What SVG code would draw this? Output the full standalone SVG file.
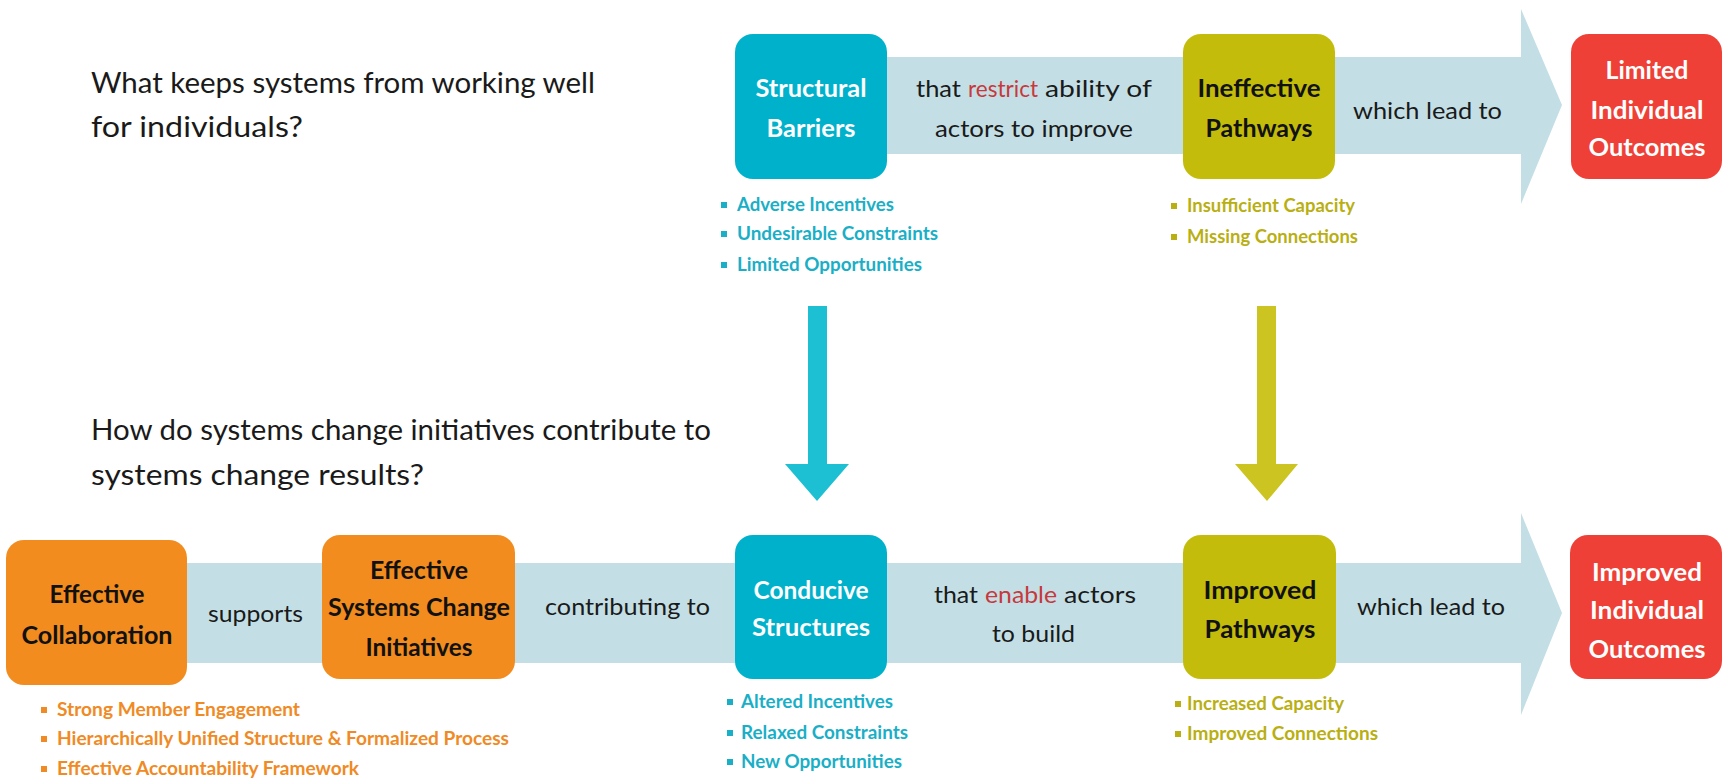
<svg xmlns="http://www.w3.org/2000/svg" width="1725" height="779" viewBox="0 0 1725 779">
<style>
text{font-family:"Lato","Liberation Sans",sans-serif;}
.q{font-size:28px;fill:#1a1a1a;}
.lbl{font-size:24px;fill:#1a1a1a;}
.red{fill:#C8383C;}
.bx{font-size:25px;font-weight:bold;text-anchor:middle;}
.w{fill:#ffffff;}
.k{fill:#111111;}
.bl{font-size:18px;font-weight:bold;}
.tb{fill:#1AAFC6;}
.ob{fill:#B9AF12;}
.or{fill:#F08A24;}
.band{fill:#C3DFE5;}
</style>
<g id="connectors">
<polygon class="band" points="860,57 1521,57 1521,9 1562,105 1521,204 1521,154 860,154"/>
<polygon class="band" points="150,563 1521,563 1521,513 1562,613 1521,715 1521,663 150,663"/>
<polygon fill="#1DBFD3" points="808,306 827,306 827,464 849,464 817,501 785,464 808,464"/>
<polygon fill="#CCC421" points="1257,306 1276,306 1276,464 1298,464 1267,501 1235,464 1257,464"/>
</g>
<g id="questions">
<text class="q" x="91" y="93" textLength="504" lengthAdjust="spacingAndGlyphs">What keeps systems from working well</text>
<text class="q" x="91" y="137" textLength="212" lengthAdjust="spacingAndGlyphs">for individuals?</text>
<text class="q" x="91" y="440" textLength="620" lengthAdjust="spacingAndGlyphs">How do systems change initiatives contribute to</text>
<text class="q" x="91" y="485" textLength="333" lengthAdjust="spacingAndGlyphs">systems change results?</text>
</g>
<g id="labels">
<text class="lbl" x="916" y="97" textLength="45" lengthAdjust="spacingAndGlyphs">that</text>
<text class="lbl red" x="968" y="97" textLength="70" lengthAdjust="spacingAndGlyphs">restrict</text>
<text class="lbl" x="1045" y="97" textLength="107" lengthAdjust="spacingAndGlyphs">ability of</text>
<text class="lbl" x="935" y="137" textLength="198" lengthAdjust="spacingAndGlyphs">actors to improve</text>
<text class="lbl" x="1353" y="119" textLength="149" lengthAdjust="spacingAndGlyphs">which lead to</text>
<text class="lbl" x="208" y="622" textLength="95" lengthAdjust="spacingAndGlyphs">supports</text>
<text class="lbl" x="545" y="615" textLength="165" lengthAdjust="spacingAndGlyphs">contributing to</text>
<text class="lbl" x="934" y="603" textLength="44" lengthAdjust="spacingAndGlyphs">that</text>
<text class="lbl red" x="985" y="603" textLength="72" lengthAdjust="spacingAndGlyphs">enable</text>
<text class="lbl" x="1064" y="603" textLength="72" lengthAdjust="spacingAndGlyphs">actors</text>
<text class="lbl" x="992" y="642" textLength="83" lengthAdjust="spacingAndGlyphs">to build</text>
<text class="lbl" x="1357" y="615" textLength="148" lengthAdjust="spacingAndGlyphs">which lead to</text>
</g>
<g id="structural-barriers">
<rect x="735" y="34" width="152" height="145" rx="18" fill="#00B1CB"/>
<text class="bx w" x="811" y="97" textLength="111" lengthAdjust="spacingAndGlyphs">Structural</text>
<text class="bx w" x="811" y="137" textLength="89" lengthAdjust="spacingAndGlyphs">Barriers</text>
<rect x="721" y="202" width="6" height="6" class="tb"/>
<text class="bl tb" x="737" y="211" textLength="157" lengthAdjust="spacingAndGlyphs">Adverse Incentives</text>
<rect x="721" y="231" width="6" height="6" class="tb"/>
<text class="bl tb" x="737" y="240" textLength="201" lengthAdjust="spacingAndGlyphs">Undesirable Constraints</text>
<rect x="721" y="262" width="6" height="6" class="tb"/>
<text class="bl tb" x="737" y="271" textLength="185" lengthAdjust="spacingAndGlyphs">Limited Opportunities</text>
</g>
<g id="ineffective-pathways">
<rect x="1183" y="34" width="152" height="145" rx="18" fill="#C4BC0B"/>
<text class="bx k" x="1259" y="97" textLength="123" lengthAdjust="spacingAndGlyphs">Ineffective</text>
<text class="bx k" x="1259" y="137" textLength="107" lengthAdjust="spacingAndGlyphs">Pathways</text>
<rect x="1171" y="203" width="6" height="6" class="ob"/>
<text class="bl ob" x="1187" y="212" textLength="168" lengthAdjust="spacingAndGlyphs">Insufficient Capacity</text>
<rect x="1171" y="234" width="6" height="6" class="ob"/>
<text class="bl ob" x="1187" y="243" textLength="171" lengthAdjust="spacingAndGlyphs">Missing Connections</text>
</g>
<g id="limited-outcomes">
<rect x="1571" y="34" width="151" height="145" rx="18" fill="#EE4036"/>
<text class="bx w" x="1647" y="79" textLength="83" lengthAdjust="spacingAndGlyphs">Limited</text>
<text class="bx w" x="1647" y="119" textLength="113" lengthAdjust="spacingAndGlyphs">Individual</text>
<text class="bx w" x="1647" y="156" textLength="117" lengthAdjust="spacingAndGlyphs">Outcomes</text>
</g>
<g id="effective-collaboration">
<rect x="6" y="540" width="181" height="145" rx="18" fill="#F28C1E"/>
<text class="bx k" x="97" y="603" textLength="95" lengthAdjust="spacingAndGlyphs">Effective</text>
<text class="bx k" x="97" y="644" textLength="151" lengthAdjust="spacingAndGlyphs">Collaboration</text>
<rect x="41" y="707" width="6" height="6" class="or"/>
<text class="bl or" x="57" y="716" textLength="243" lengthAdjust="spacingAndGlyphs">Strong Member Engagement</text>
<rect x="41" y="736" width="6" height="6" class="or"/>
<text class="bl or" x="57" y="745" textLength="452" lengthAdjust="spacingAndGlyphs">Hierarchically Unified Structure &amp; Formalized Process</text>
<rect x="41" y="766" width="6" height="6" class="or"/>
<text class="bl or" x="57" y="775" textLength="302" lengthAdjust="spacingAndGlyphs">Effective Accountability Framework</text>
</g>
<g id="effective-initiatives">
<rect x="322" y="535" width="193" height="144" rx="18" fill="#F28C1E"/>
<text class="bx k" x="419" y="579" textLength="98" lengthAdjust="spacingAndGlyphs">Effective</text>
<text class="bx k" x="419" y="616" textLength="182" lengthAdjust="spacingAndGlyphs">Systems Change</text>
<text class="bx k" x="419" y="656" textLength="107" lengthAdjust="spacingAndGlyphs">Initiatives</text>
</g>
<g id="conducive-structures">
<rect x="735" y="535" width="152" height="144" rx="18" fill="#00B1CB"/>
<text class="bx w" x="811" y="599" textLength="115" lengthAdjust="spacingAndGlyphs">Conducive</text>
<text class="bx w" x="811" y="636" textLength="118" lengthAdjust="spacingAndGlyphs">Structures</text>
<rect x="727" y="699" width="6" height="6" class="tb"/>
<text class="bl tb" x="741" y="708" textLength="152" lengthAdjust="spacingAndGlyphs">Altered Incentives</text>
<rect x="727" y="730" width="6" height="6" class="tb"/>
<text class="bl tb" x="741" y="739" textLength="167" lengthAdjust="spacingAndGlyphs">Relaxed Constraints</text>
<rect x="727" y="759" width="6" height="6" class="tb"/>
<text class="bl tb" x="741" y="768" textLength="161" lengthAdjust="spacingAndGlyphs">New Opportunities</text>
</g>
<g id="improved-pathways">
<rect x="1183" y="535" width="153" height="144" rx="18" fill="#C4BC0B"/>
<text class="bx k" x="1260" y="599" textLength="113" lengthAdjust="spacingAndGlyphs">Improved</text>
<text class="bx k" x="1260" y="638" textLength="111" lengthAdjust="spacingAndGlyphs">Pathways</text>
<rect x="1175" y="701" width="6" height="6" class="ob"/>
<text class="bl ob" x="1187" y="710" textLength="157" lengthAdjust="spacingAndGlyphs">Increased Capacity</text>
<rect x="1175" y="731" width="6" height="6" class="ob"/>
<text class="bl ob" x="1187" y="740" textLength="191" lengthAdjust="spacingAndGlyphs">Improved Connections</text>
</g>
<g id="improved-outcomes">
<rect x="1570" y="535" width="152" height="144" rx="18" fill="#EE4036"/>
<text class="bx w" x="1647" y="581" textLength="110" lengthAdjust="spacingAndGlyphs">Improved</text>
<text class="bx w" x="1647" y="619" textLength="114" lengthAdjust="spacingAndGlyphs">Individual</text>
<text class="bx w" x="1647" y="658" textLength="117" lengthAdjust="spacingAndGlyphs">Outcomes</text>
</g>
</svg>
